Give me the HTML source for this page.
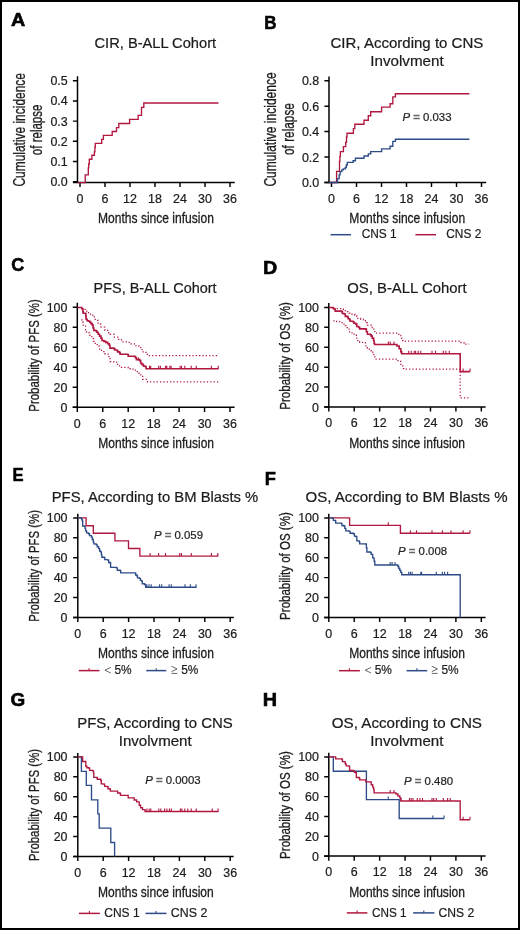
<!DOCTYPE html>
<html><head><meta charset="utf-8"><style>
html,body{margin:0;padding:0;background:#fff;}
body{width:520px;height:930px;overflow:hidden;}
svg{display:block;font-family:"Liberation Sans",sans-serif;}
text{stroke:#1a1a1a;stroke-width:0.22px;paint-order:stroke;}
text[font-weight=bold]{stroke:#000;stroke-width:0.6px;}
text.lab{stroke-width:0.3px;}
</style></head><body>
<svg width="520" height="930" viewBox="0 0 520 930">
<rect x="0" y="0" width="520" height="930" fill="#fff"/>
<g opacity="0.995">
<text transform="translate(10.89,25.90) scale(1.0699,1)" font-size="18.49" font-weight="bold" fill="#000" class="">A</text>
<text transform="translate(264.14,28.80) scale(0.9464,1)" font-size="17.92" font-weight="bold" fill="#000" class="">B</text>
<text transform="translate(11.34,271.00) scale(0.9380,1)" font-size="19.20" font-weight="bold" fill="#000" class="">C</text>
<text transform="translate(262.97,273.80) scale(1.0644,1)" font-size="18.49" font-weight="bold" fill="#000" class="">D</text>
<text transform="translate(12.46,480.90) scale(0.8845,1)" font-size="18.77" font-weight="bold" fill="#000" class="">E</text>
<text transform="translate(264.66,484.50) scale(0.9638,1)" font-size="18.92" font-weight="bold" fill="#000" class="">F</text>
<text transform="translate(10.61,705.70) scale(0.9922,1)" font-size="19.06" font-weight="bold" fill="#000" class="">G</text>
<text transform="translate(262.86,705.80) scale(1.0667,1)" font-size="18.63" font-weight="bold" fill="#000" class="">H</text>
<text transform="translate(94.51,47.80) scale(0.9907,1)" font-size="14.80" font-weight="normal" fill="#1a1a1a" class="">CIR, B-ALL Cohort</text>
<text transform="translate(330.49,47.80) scale(1.0168,1)" font-size="14.80" font-weight="normal" fill="#1a1a1a" class="">CIR, According to CNS</text>
<text transform="translate(370.31,65.50) scale(1.0261,1)" font-size="14.80" font-weight="normal" fill="#1a1a1a" class="">Involvment</text>
<text transform="translate(93.57,292.60) scale(0.9764,1)" font-size="14.80" font-weight="normal" fill="#1a1a1a" class="">PFS, B-ALL Cohort</text>
<text transform="translate(347.20,292.70) scale(1.0065,1)" font-size="14.80" font-weight="normal" fill="#1a1a1a" class="">OS, B-ALL Cohort</text>
<text transform="translate(51.74,502.30) scale(1.0008,1)" font-size="14.80" font-weight="normal" fill="#1a1a1a" class="">PFS, According to BM Blasts %</text>
<text transform="translate(305.50,502.30) scale(1.0159,1)" font-size="14.80" font-weight="normal" fill="#1a1a1a" class="">OS, According to BM Blasts %</text>
<text transform="translate(77.23,727.50) scale(1.0121,1)" font-size="14.80" font-weight="normal" fill="#1a1a1a" class="">PFS, According to CNS</text>
<text transform="translate(118.72,745.50) scale(1.0205,1)" font-size="14.80" font-weight="normal" fill="#1a1a1a" class="">Involvment</text>
<text transform="translate(331.79,727.50) scale(1.0266,1)" font-size="14.80" font-weight="normal" fill="#1a1a1a" class="">OS, According to CNS</text>
<text transform="translate(370.32,745.50) scale(1.0219,1)" font-size="14.80" font-weight="normal" fill="#1a1a1a" class="">Involvment</text>
<text transform="translate(98.06,223.10) scale(0.8036,1)" font-size="15.00" font-weight="normal" fill="#1a1a1a" class="lab">Months since infusion</text>
<text transform="translate(349.36,223.10) scale(0.8036,1)" font-size="15.00" font-weight="normal" fill="#1a1a1a" class="lab">Months since infusion</text>
<text transform="translate(98.26,447.90) scale(0.8036,1)" font-size="15.00" font-weight="normal" fill="#1a1a1a" class="lab">Months since infusion</text>
<text transform="translate(349.26,447.60) scale(0.8036,1)" font-size="15.00" font-weight="normal" fill="#1a1a1a" class="lab">Months since infusion</text>
<text transform="translate(98.06,658.00) scale(0.8036,1)" font-size="15.00" font-weight="normal" fill="#1a1a1a" class="lab">Months since infusion</text>
<text transform="translate(349.16,658.00) scale(0.8036,1)" font-size="15.00" font-weight="normal" fill="#1a1a1a" class="lab">Months since infusion</text>
<text transform="translate(97.96,897.00) scale(0.8036,1)" font-size="15.00" font-weight="normal" fill="#1a1a1a" class="lab">Months since infusion</text>
<text transform="translate(349.16,896.70) scale(0.8036,1)" font-size="15.00" font-weight="normal" fill="#1a1a1a" class="lab">Months since infusion</text>
<text transform="translate(24.50,186.56) rotate(-90) scale(0.7466,1)" font-size="16.00" fill="#1a1a1a" class="lab">Cumulative incidence</text>
<text transform="translate(41.70,155.16) rotate(-90) scale(0.7205,1)" font-size="16.00" fill="#1a1a1a" class="lab">of relapse</text>
<text transform="translate(276.30,186.56) rotate(-90) scale(0.7513,1)" font-size="16.00" fill="#1a1a1a" class="lab">Cumulative incidence</text>
<text transform="translate(293.60,154.97) rotate(-90) scale(0.7393,1)" font-size="16.00" fill="#1a1a1a" class="lab">of relapse</text>
<text transform="translate(38.90,411.69) rotate(-90) scale(0.7378,1)" font-size="15.50" fill="#1a1a1a" class="lab">Probability of PFS (%)</text>
<text transform="translate(38.90,621.79) rotate(-90) scale(0.7338,1)" font-size="15.50" fill="#1a1a1a" class="lab">Probability of PFS (%)</text>
<text transform="translate(38.90,860.99) rotate(-90) scale(0.7358,1)" font-size="15.50" fill="#1a1a1a" class="lab">Probability of PFS (%)</text>
<text transform="translate(290.10,409.70) rotate(-90) scale(0.7442,1)" font-size="15.50" fill="#1a1a1a" class="lab">Probability of OS (%)</text>
<text transform="translate(290.10,619.90) rotate(-90) scale(0.7442,1)" font-size="15.50" fill="#1a1a1a" class="lab">Probability of OS (%)</text>
<text transform="translate(290.10,858.90) rotate(-90) scale(0.7442,1)" font-size="15.50" fill="#1a1a1a" class="lab">Probability of OS (%)</text>
<text transform="translate(361.64,238.20) scale(0.9151,1)" font-size="13.00" font-weight="normal" fill="#1a1a1a" class="">CNS 1</text>
<text transform="translate(446.24,238.20) scale(0.9151,1)" font-size="13.00" font-weight="normal" fill="#1a1a1a" class="">CNS 2</text>
<text transform="translate(104.24,916.70) scale(0.9232,1)" font-size="13.00" font-weight="normal" fill="#1a1a1a" class="">CNS 1</text>
<text transform="translate(170.82,916.70) scale(0.9555,1)" font-size="13.00" font-weight="normal" fill="#1a1a1a" class="">CNS 2</text>
<text transform="translate(372.05,916.50) scale(0.9044,1)" font-size="13.00" font-weight="normal" fill="#1a1a1a" class="">CNS 1</text>
<text transform="translate(438.53,916.50) scale(0.9340,1)" font-size="13.00" font-weight="normal" fill="#1a1a1a" class="">CNS 2</text>
<text transform="translate(114.43,673.80) scale(0.8962,1)" font-size="13.30" font-weight="normal" fill="#1a1a1a" class="">5%</text>
<text transform="translate(181.13,673.80) scale(0.8962,1)" font-size="13.30" font-weight="normal" fill="#1a1a1a" class="">5%</text>
<text transform="translate(374.73,673.90) scale(0.8962,1)" font-size="13.30" font-weight="normal" fill="#1a1a1a" class="">5%</text>
<text transform="translate(441.43,673.90) scale(0.8962,1)" font-size="13.30" font-weight="normal" fill="#1a1a1a" class="">5%</text>
<path d="M77.5,76.3V182.5M72.9,182.5H234.75" stroke="#000" stroke-width="1.5" fill="none"/>
<path d="M72.9,80.7H77.5M72.9,100.9H77.5M72.9,121.1H77.5M72.9,141.3H77.5M72.9,161.5H77.5M72.9,181.7H77.5M80.00,182.5v4.6M105.00,182.5v4.6M130.00,182.5v4.6M155.00,182.5v4.6M180.00,182.5v4.6M205.00,182.5v4.6M230.00,182.5v4.6" stroke="#000" stroke-width="1.45" fill="none"/>
<text x="0" y="0" transform="translate(67.7,85.2) scale(0.98,1)" text-anchor="end" font-size="12.7" fill="#1a1a1a">0.5</text>
<text x="0" y="0" transform="translate(67.7,105.4) scale(0.98,1)" text-anchor="end" font-size="12.7" fill="#1a1a1a">0.4</text>
<text x="0" y="0" transform="translate(67.7,125.6) scale(0.98,1)" text-anchor="end" font-size="12.7" fill="#1a1a1a">0.3</text>
<text x="0" y="0" transform="translate(67.7,145.8) scale(0.98,1)" text-anchor="end" font-size="12.7" fill="#1a1a1a">0.2</text>
<text x="0" y="0" transform="translate(67.7,166.0) scale(0.98,1)" text-anchor="end" font-size="12.7" fill="#1a1a1a">0.1</text>
<text x="0" y="0" transform="translate(67.7,186.2) scale(0.98,1)" text-anchor="end" font-size="12.7" fill="#1a1a1a">0.0</text>
<text transform="translate(80.00,202.8) scale(0.98,1)" text-anchor="middle" font-size="12.7" fill="#1a1a1a">0</text>
<text transform="translate(105.00,202.8) scale(0.98,1)" text-anchor="middle" font-size="12.7" fill="#1a1a1a">6</text>
<text transform="translate(130.00,202.8) scale(0.98,1)" text-anchor="middle" font-size="12.7" fill="#1a1a1a">12</text>
<text transform="translate(155.00,202.8) scale(0.98,1)" text-anchor="middle" font-size="12.7" fill="#1a1a1a">18</text>
<text transform="translate(180.00,202.8) scale(0.98,1)" text-anchor="middle" font-size="12.7" fill="#1a1a1a">24</text>
<text transform="translate(205.00,202.8) scale(0.98,1)" text-anchor="middle" font-size="12.7" fill="#1a1a1a">30</text>
<text transform="translate(230.00,202.8) scale(0.98,1)" text-anchor="middle" font-size="12.7" fill="#1a1a1a">36</text>
<path d="M329,76.5V182.5M324.4,182.5H486.2" stroke="#000" stroke-width="1.5" fill="none"/>
<path d="M324.4,80.8H329M324.4,106.2H329M324.4,131.5H329M324.4,157.0H329M324.4,182.5H329M331.50,182.5v4.6M356.50,182.5v4.6M381.50,182.5v4.6M406.50,182.5v4.6M431.50,182.5v4.6M456.50,182.5v4.6M481.50,182.5v4.6" stroke="#000" stroke-width="1.45" fill="none"/>
<text x="0" y="0" transform="translate(319.2,85.3) scale(0.98,1)" text-anchor="end" font-size="12.7" fill="#1a1a1a">0.8</text>
<text x="0" y="0" transform="translate(319.2,110.7) scale(0.98,1)" text-anchor="end" font-size="12.7" fill="#1a1a1a">0.6</text>
<text x="0" y="0" transform="translate(319.2,136.0) scale(0.98,1)" text-anchor="end" font-size="12.7" fill="#1a1a1a">0.4</text>
<text x="0" y="0" transform="translate(319.2,161.5) scale(0.98,1)" text-anchor="end" font-size="12.7" fill="#1a1a1a">0.2</text>
<text x="0" y="0" transform="translate(319.2,187.0) scale(0.98,1)" text-anchor="end" font-size="12.7" fill="#1a1a1a">0.0</text>
<text transform="translate(331.50,202.8) scale(0.98,1)" text-anchor="middle" font-size="12.7" fill="#1a1a1a">0</text>
<text transform="translate(356.50,202.8) scale(0.98,1)" text-anchor="middle" font-size="12.7" fill="#1a1a1a">6</text>
<text transform="translate(381.50,202.8) scale(0.98,1)" text-anchor="middle" font-size="12.7" fill="#1a1a1a">12</text>
<text transform="translate(406.50,202.8) scale(0.98,1)" text-anchor="middle" font-size="12.7" fill="#1a1a1a">18</text>
<text transform="translate(431.50,202.8) scale(0.98,1)" text-anchor="middle" font-size="12.7" fill="#1a1a1a">24</text>
<text transform="translate(456.50,202.8) scale(0.98,1)" text-anchor="middle" font-size="12.7" fill="#1a1a1a">30</text>
<text transform="translate(481.50,202.8) scale(0.98,1)" text-anchor="middle" font-size="12.7" fill="#1a1a1a">36</text>
<path d="M77.3,302.7V407.3M72.7,407.3H234.6" stroke="#000" stroke-width="1.5" fill="none"/>
<path d="M72.7,307.3H77.3M72.7,327.3H77.3M72.7,347.3H77.3M72.7,367.3H77.3M72.7,387.3H77.3M72.7,407.3H77.3M77.30,407.3v4.6M102.75,407.3v4.6M128.20,407.3v4.6M153.65,407.3v4.6M179.10,407.3v4.6M204.55,407.3v4.6M230.00,407.3v4.6" stroke="#000" stroke-width="1.45" fill="none"/>
<text x="0" y="0" transform="translate(67.4,311.8) scale(0.98,1)" text-anchor="end" font-size="12.7" fill="#1a1a1a">100</text>
<text x="0" y="0" transform="translate(67.4,331.8) scale(0.98,1)" text-anchor="end" font-size="12.7" fill="#1a1a1a">80</text>
<text x="0" y="0" transform="translate(67.4,351.8) scale(0.98,1)" text-anchor="end" font-size="12.7" fill="#1a1a1a">60</text>
<text x="0" y="0" transform="translate(67.4,371.8) scale(0.98,1)" text-anchor="end" font-size="12.7" fill="#1a1a1a">40</text>
<text x="0" y="0" transform="translate(67.4,391.8) scale(0.98,1)" text-anchor="end" font-size="12.7" fill="#1a1a1a">20</text>
<text x="0" y="0" transform="translate(67.4,411.8) scale(0.98,1)" text-anchor="end" font-size="12.7" fill="#1a1a1a">0</text>
<text transform="translate(77.30,427.6) scale(0.98,1)" text-anchor="middle" font-size="12.7" fill="#1a1a1a">0</text>
<text transform="translate(102.75,427.6) scale(0.98,1)" text-anchor="middle" font-size="12.7" fill="#1a1a1a">6</text>
<text transform="translate(128.20,427.6) scale(0.98,1)" text-anchor="middle" font-size="12.7" fill="#1a1a1a">12</text>
<text transform="translate(153.65,427.6) scale(0.98,1)" text-anchor="middle" font-size="12.7" fill="#1a1a1a">18</text>
<text transform="translate(179.10,427.6) scale(0.98,1)" text-anchor="middle" font-size="12.7" fill="#1a1a1a">24</text>
<text transform="translate(204.55,427.6) scale(0.98,1)" text-anchor="middle" font-size="12.7" fill="#1a1a1a">30</text>
<text transform="translate(230.00,427.6) scale(0.98,1)" text-anchor="middle" font-size="12.7" fill="#1a1a1a">36</text>
<path d="M328.8,303.1V407.0M324.2,407.0H485.6" stroke="#000" stroke-width="1.5" fill="none"/>
<path d="M324.2,307.4H328.8M324.2,327.32H328.8M324.2,347.24H328.8M324.2,367.15999999999997H328.8M324.2,387.08H328.8M324.2,407.0H328.8M328.80,407.0v4.6M354.22,407.0v4.6M379.64,407.0v4.6M405.06,407.0v4.6M430.48,407.0v4.6M455.90,407.0v4.6M481.32,407.0v4.6" stroke="#000" stroke-width="1.45" fill="none"/>
<text x="0" y="0" transform="translate(318.9,311.9) scale(0.98,1)" text-anchor="end" font-size="12.7" fill="#1a1a1a">100</text>
<text x="0" y="0" transform="translate(318.9,331.82) scale(0.98,1)" text-anchor="end" font-size="12.7" fill="#1a1a1a">80</text>
<text x="0" y="0" transform="translate(318.9,351.74) scale(0.98,1)" text-anchor="end" font-size="12.7" fill="#1a1a1a">60</text>
<text x="0" y="0" transform="translate(318.9,371.65999999999997) scale(0.98,1)" text-anchor="end" font-size="12.7" fill="#1a1a1a">40</text>
<text x="0" y="0" transform="translate(318.9,391.58) scale(0.98,1)" text-anchor="end" font-size="12.7" fill="#1a1a1a">20</text>
<text x="0" y="0" transform="translate(318.9,411.5) scale(0.98,1)" text-anchor="end" font-size="12.7" fill="#1a1a1a">0</text>
<text transform="translate(328.80,427.3) scale(0.98,1)" text-anchor="middle" font-size="12.7" fill="#1a1a1a">0</text>
<text transform="translate(354.22,427.3) scale(0.98,1)" text-anchor="middle" font-size="12.7" fill="#1a1a1a">6</text>
<text transform="translate(379.64,427.3) scale(0.98,1)" text-anchor="middle" font-size="12.7" fill="#1a1a1a">12</text>
<text transform="translate(405.06,427.3) scale(0.98,1)" text-anchor="middle" font-size="12.7" fill="#1a1a1a">18</text>
<text transform="translate(430.48,427.3) scale(0.98,1)" text-anchor="middle" font-size="12.7" fill="#1a1a1a">24</text>
<text transform="translate(455.90,427.3) scale(0.98,1)" text-anchor="middle" font-size="12.7" fill="#1a1a1a">30</text>
<text transform="translate(481.32,427.3) scale(0.98,1)" text-anchor="middle" font-size="12.7" fill="#1a1a1a">36</text>
<path d="M77.8,513.7V617.4M73.2,617.4H233.8" stroke="#000" stroke-width="1.5" fill="none"/>
<path d="M73.2,517.9H77.8M73.2,537.8H77.8M73.2,557.6999999999999H77.8M73.2,577.6H77.8M73.2,597.5H77.8M73.2,617.4H77.8M77.80,617.4v4.6M103.20,617.4v4.6M128.60,617.4v4.6M154.00,617.4v4.6M179.40,617.4v4.6M204.80,617.4v4.6M230.20,617.4v4.6" stroke="#000" stroke-width="1.45" fill="none"/>
<text x="0" y="0" transform="translate(67.5,522.4) scale(0.98,1)" text-anchor="end" font-size="12.7" fill="#1a1a1a">100</text>
<text x="0" y="0" transform="translate(67.5,542.3) scale(0.98,1)" text-anchor="end" font-size="12.7" fill="#1a1a1a">80</text>
<text x="0" y="0" transform="translate(67.5,562.1999999999999) scale(0.98,1)" text-anchor="end" font-size="12.7" fill="#1a1a1a">60</text>
<text x="0" y="0" transform="translate(67.5,582.1) scale(0.98,1)" text-anchor="end" font-size="12.7" fill="#1a1a1a">40</text>
<text x="0" y="0" transform="translate(67.5,602.0) scale(0.98,1)" text-anchor="end" font-size="12.7" fill="#1a1a1a">20</text>
<text x="0" y="0" transform="translate(67.5,621.9) scale(0.98,1)" text-anchor="end" font-size="12.7" fill="#1a1a1a">0</text>
<text transform="translate(77.80,637.6999999999999) scale(0.98,1)" text-anchor="middle" font-size="12.7" fill="#1a1a1a">0</text>
<text transform="translate(103.20,637.6999999999999) scale(0.98,1)" text-anchor="middle" font-size="12.7" fill="#1a1a1a">6</text>
<text transform="translate(128.60,637.6999999999999) scale(0.98,1)" text-anchor="middle" font-size="12.7" fill="#1a1a1a">12</text>
<text transform="translate(154.00,637.6999999999999) scale(0.98,1)" text-anchor="middle" font-size="12.7" fill="#1a1a1a">18</text>
<text transform="translate(179.40,637.6999999999999) scale(0.98,1)" text-anchor="middle" font-size="12.7" fill="#1a1a1a">24</text>
<text transform="translate(204.80,637.6999999999999) scale(0.98,1)" text-anchor="middle" font-size="12.7" fill="#1a1a1a">30</text>
<text transform="translate(230.20,637.6999999999999) scale(0.98,1)" text-anchor="middle" font-size="12.7" fill="#1a1a1a">36</text>
<path d="M328.8,513.7V617.4M324.2,617.4H485.6" stroke="#000" stroke-width="1.5" fill="none"/>
<path d="M324.2,517.9H328.8M324.2,537.8H328.8M324.2,557.6999999999999H328.8M324.2,577.6H328.8M324.2,597.5H328.8M324.2,617.4H328.8M328.80,617.4v4.6M354.22,617.4v4.6M379.64,617.4v4.6M405.06,617.4v4.6M430.48,617.4v4.6M455.90,617.4v4.6M481.32,617.4v4.6" stroke="#000" stroke-width="1.45" fill="none"/>
<text x="0" y="0" transform="translate(318.9,522.4) scale(0.98,1)" text-anchor="end" font-size="12.7" fill="#1a1a1a">100</text>
<text x="0" y="0" transform="translate(318.9,542.3) scale(0.98,1)" text-anchor="end" font-size="12.7" fill="#1a1a1a">80</text>
<text x="0" y="0" transform="translate(318.9,562.1999999999999) scale(0.98,1)" text-anchor="end" font-size="12.7" fill="#1a1a1a">60</text>
<text x="0" y="0" transform="translate(318.9,582.1) scale(0.98,1)" text-anchor="end" font-size="12.7" fill="#1a1a1a">40</text>
<text x="0" y="0" transform="translate(318.9,602.0) scale(0.98,1)" text-anchor="end" font-size="12.7" fill="#1a1a1a">20</text>
<text x="0" y="0" transform="translate(318.9,621.9) scale(0.98,1)" text-anchor="end" font-size="12.7" fill="#1a1a1a">0</text>
<text transform="translate(328.80,637.6999999999999) scale(0.98,1)" text-anchor="middle" font-size="12.7" fill="#1a1a1a">0</text>
<text transform="translate(354.22,637.6999999999999) scale(0.98,1)" text-anchor="middle" font-size="12.7" fill="#1a1a1a">6</text>
<text transform="translate(379.64,637.6999999999999) scale(0.98,1)" text-anchor="middle" font-size="12.7" fill="#1a1a1a">12</text>
<text transform="translate(405.06,637.6999999999999) scale(0.98,1)" text-anchor="middle" font-size="12.7" fill="#1a1a1a">18</text>
<text transform="translate(430.48,637.6999999999999) scale(0.98,1)" text-anchor="middle" font-size="12.7" fill="#1a1a1a">24</text>
<text transform="translate(455.90,637.6999999999999) scale(0.98,1)" text-anchor="middle" font-size="12.7" fill="#1a1a1a">30</text>
<text transform="translate(481.32,637.6999999999999) scale(0.98,1)" text-anchor="middle" font-size="12.7" fill="#1a1a1a">36</text>
<path d="M77.8,753.0V856.4M73.2,856.4H233.6" stroke="#000" stroke-width="1.5" fill="none"/>
<path d="M73.2,756.9H77.8M73.2,776.8199999999999H77.8M73.2,796.74H77.8M73.2,816.66H77.8M73.2,836.5799999999999H77.8M73.2,856.5H77.8M77.80,856.4v4.6M103.20,856.4v4.6M128.60,856.4v4.6M154.00,856.4v4.6M179.40,856.4v4.6M204.80,856.4v4.6M230.20,856.4v4.6" stroke="#000" stroke-width="1.45" fill="none"/>
<text x="0" y="0" transform="translate(67.5,761.4) scale(0.98,1)" text-anchor="end" font-size="12.7" fill="#1a1a1a">100</text>
<text x="0" y="0" transform="translate(67.5,781.3199999999999) scale(0.98,1)" text-anchor="end" font-size="12.7" fill="#1a1a1a">80</text>
<text x="0" y="0" transform="translate(67.5,801.24) scale(0.98,1)" text-anchor="end" font-size="12.7" fill="#1a1a1a">60</text>
<text x="0" y="0" transform="translate(67.5,821.16) scale(0.98,1)" text-anchor="end" font-size="12.7" fill="#1a1a1a">40</text>
<text x="0" y="0" transform="translate(67.5,841.0799999999999) scale(0.98,1)" text-anchor="end" font-size="12.7" fill="#1a1a1a">20</text>
<text x="0" y="0" transform="translate(67.5,861.0) scale(0.98,1)" text-anchor="end" font-size="12.7" fill="#1a1a1a">0</text>
<text transform="translate(77.80,876.6999999999999) scale(0.98,1)" text-anchor="middle" font-size="12.7" fill="#1a1a1a">0</text>
<text transform="translate(103.20,876.6999999999999) scale(0.98,1)" text-anchor="middle" font-size="12.7" fill="#1a1a1a">6</text>
<text transform="translate(128.60,876.6999999999999) scale(0.98,1)" text-anchor="middle" font-size="12.7" fill="#1a1a1a">12</text>
<text transform="translate(154.00,876.6999999999999) scale(0.98,1)" text-anchor="middle" font-size="12.7" fill="#1a1a1a">18</text>
<text transform="translate(179.40,876.6999999999999) scale(0.98,1)" text-anchor="middle" font-size="12.7" fill="#1a1a1a">24</text>
<text transform="translate(204.80,876.6999999999999) scale(0.98,1)" text-anchor="middle" font-size="12.7" fill="#1a1a1a">30</text>
<text transform="translate(230.20,876.6999999999999) scale(0.98,1)" text-anchor="middle" font-size="12.7" fill="#1a1a1a">36</text>
<path d="M328.8,752.8V856.1M324.2,856.1H485.6" stroke="#000" stroke-width="1.5" fill="none"/>
<path d="M324.2,756.9H328.8M324.2,776.75H328.8M324.2,796.6H328.8M324.2,816.4499999999999H328.8M324.2,836.3H328.8M324.2,856.15H328.8M328.80,856.1v4.6M354.22,856.1v4.6M379.64,856.1v4.6M405.06,856.1v4.6M430.48,856.1v4.6M455.90,856.1v4.6M481.32,856.1v4.6" stroke="#000" stroke-width="1.45" fill="none"/>
<text x="0" y="0" transform="translate(318.9,761.4) scale(0.98,1)" text-anchor="end" font-size="12.7" fill="#1a1a1a">100</text>
<text x="0" y="0" transform="translate(318.9,781.25) scale(0.98,1)" text-anchor="end" font-size="12.7" fill="#1a1a1a">80</text>
<text x="0" y="0" transform="translate(318.9,801.1) scale(0.98,1)" text-anchor="end" font-size="12.7" fill="#1a1a1a">60</text>
<text x="0" y="0" transform="translate(318.9,820.9499999999999) scale(0.98,1)" text-anchor="end" font-size="12.7" fill="#1a1a1a">40</text>
<text x="0" y="0" transform="translate(318.9,840.8) scale(0.98,1)" text-anchor="end" font-size="12.7" fill="#1a1a1a">20</text>
<text x="0" y="0" transform="translate(318.9,860.65) scale(0.98,1)" text-anchor="end" font-size="12.7" fill="#1a1a1a">0</text>
<text transform="translate(328.80,876.4) scale(0.98,1)" text-anchor="middle" font-size="12.7" fill="#1a1a1a">0</text>
<text transform="translate(354.22,876.4) scale(0.98,1)" text-anchor="middle" font-size="12.7" fill="#1a1a1a">6</text>
<text transform="translate(379.64,876.4) scale(0.98,1)" text-anchor="middle" font-size="12.7" fill="#1a1a1a">12</text>
<text transform="translate(405.06,876.4) scale(0.98,1)" text-anchor="middle" font-size="12.7" fill="#1a1a1a">18</text>
<text transform="translate(430.48,876.4) scale(0.98,1)" text-anchor="middle" font-size="12.7" fill="#1a1a1a">24</text>
<text transform="translate(455.90,876.4) scale(0.98,1)" text-anchor="middle" font-size="12.7" fill="#1a1a1a">30</text>
<text transform="translate(481.32,876.4) scale(0.98,1)" text-anchor="middle" font-size="12.7" fill="#1a1a1a">36</text>
<path d="M77.8,182.6H85.2V174.8H88.3V167.9H88.7V163.9H89.3V159.2H91.9V155.2H94.4V151.7H94.9V147H95.3V143.4H101.7V139.3H103.4V135.3H112.2V131.5H116.5V127.6H118.8V123.5H129.6V119.3H138.1V115.3H141.5V107.3H143.8V103H218.5" stroke="#B0173F" stroke-width="1.35" fill="none" stroke-linejoin="miter"/>
<path d="M329,182.5H336.6V171.4H339.5V161.5H339.9V156.3H340.4V151.6H343.4V146.6H345.7V142.3H346.5V137H347V133.2H353.4V128.6H354.8V124.2H364V120.2H368.3V115.7H370.7V111.7H381.6V107.1H390.1V103.7H392.8V96.9H395.4V93.75H469.4" stroke="#B0173F" stroke-width="1.35" fill="none" stroke-linejoin="miter"/>
<path d="M329,182.5H337.5V178.6H339.2V174.8H340.1V171.6H341.8V169.8H343.3V168.8H345.3V167.5H346.3V165H347.3V162.4H353.1V160.7H355.4V158.2H364V156H368.3V153.8H370.7V151.6H381.6V148.8H390.1V146.2H392.8V141.3H395.4V139.2H469.4" stroke="#2C4A86" stroke-width="1.35" fill="none" stroke-linejoin="miter"/>
<path d="M81.8,308.7H85.1V311.1H88.5V314H92.8V316.9H95.2V320.3H98.1V324.1H101V327H104.8V330.4H108.7V332.8H110V334.2H113.8V337H117.7V339.4H121.5V341.8H128.3V342.3H130.2V343.8H134V343.8H136V345.7H138.8V347.6H140.8V349.5H143.2V352.4H146.1V354.3H148.5V355.6H218.7V355.6" stroke="#B0173F" stroke-width="1.25" fill="none" stroke-linejoin="miter" stroke-dasharray="1.25,2.1"/>
<path d="M81.3,319.8H82.7V322.2H83.2V326H85.6V327H85.6V329.9H86.6V332.8H89.5V335.2H91.9V337.6H93.3V341.4H95.2V343.3H97.2V346.2H99.6V349.1H101.5V351.5H105V354H108V356.5H110V358.7H110V361.5H113.8V362H116.7V364.4H119.6V365.9H121.5V367.3H128.3V367.8H130.2V369.2H134V370.2H136V371.6H138.8V373.1H140.8V375.5H142.7V379.3H146.5V380.3H147.5V381.8H218.7V381.8" stroke="#B0173F" stroke-width="1.25" fill="none" stroke-linejoin="miter" stroke-dasharray="1.25,2.1"/>
<path d="M77.4,307.5H81.3V307.5H81.8V308.7H82.7V308.9H82.9V311.6H83.2V313.3H85.6V313.5H85.8V316.4H86.1V319.3H87.1V320.8H88.5V321.2H89.9V322.2H90.9V323.6H92.3V325.1H93.1V328H93.8V330.4H95.7V330.8H96.7V332.3H98.1V334.2H99.6V336.1H101V338.1H102V340.5H103.9V341.4H105.8V342.4H107.7V343.8H109.2V345.3H110V346.5H110V348.1H113.8V348.6H114.8V350H116.7V350.5H117.7V351.9H119.6V352.9H120.1V354.3H127.8V354.8H128.3V356.3H134.5V356.5H135.5V357.7H136.4V359.6H139.8V360.6H140.6V363H141.7V364.4H143.2V365.4H143.7V366.3H145.6V366.8H146.1V368.7H218.6V368.7" stroke="#B0173F" stroke-width="1.6" fill="none" stroke-linejoin="miter"/>
<path d="M138.4,360.6v-3.0" stroke="#B0173F" stroke-width="1.1" fill="none"/>
<path d="M149.5,368.7v-3.0M150.7,368.7v-3.0M158.7,368.7v-3.0M160.4,368.7v-3.0M165.6,368.7v-3.0M166.8,368.7v-3.0M169.8,368.7v-3.0M171.1,368.7v-3.0M180.1,368.7v-3.0M181.5,368.7v-3.0M184.8,368.7v-3.0M191.2,368.7v-3.0M196.2,368.7v-3.0M211.4,368.7v-3.0M218.2,368.7v-3.0" stroke="#B0173F" stroke-width="1.1" fill="none"/>
<path d="M333.7,308.3H336.6V308.7H341.4V308.9H343.3V309.7H345.3V310.7H347.2V311.6H349.1V313.1H352V314H354.9V315H356.8V316.4H357.8V318.3H360.7V319.3H363.5V319.8H365.5V320.8H366.4V322.7H367.4V325.1H371.2V325.6H372.2V327.5H373.8V331.5H374.8V333.1H396.9V333.1H398.8V335.4H400.8V338.3H401.7V340.6H403V341.1H458.8V341.1H461V342.5H464V344.2H469.2V344.2" stroke="#B0173F" stroke-width="1.25" fill="none" stroke-linejoin="miter" stroke-dasharray="1.25,2.1"/>
<path d="M333.3,320.8H336.6V321.7H340.5V322.7H343.3V324.1H345.3V325.6H347.2V327.5H349.1V329.9H349.6V332.8H352V334.2H354.9V335.2H356.3V336.6H356.8V340.5H359.7V342.4H363.5V342.9H365.5V343.8H365.9V345.8H367.4V348.2H369.3V349.1H371.2V351H372.9V352.7H373.8V356.2H374.8V359H395V359H397.9V361.3H400.8V365.2H402.7V368.5H404V369H458.8V369H460.2V369H460.2V397.9H468.9V397.9" stroke="#B0173F" stroke-width="1.25" fill="none" stroke-linejoin="miter" stroke-dasharray="1.25,2.1"/>
<path d="M328.9,307.5H332.8V307.5H333.3V308.7H334.7V309.2H335.2V311.1H341.4V311.6H342.4V313.5H344.3V314H345.3V316.4H347.7V317.4H348.2V318.8H349.6V319.8H350.1V321.2H353V321.7H353.9V323.2H355.8V324.1H356.8V326.5H358.7V327.5H359.7V328.9H365.5V329.1H366.4V331.8H367.4V334.2H370.3V334.7H371.2V336.1H372.2V338.1H373.6V340.5H374.1V343.3H374.6V344.5H396.9V344.5H396.9V346H399.2V346H399.2V348.8H400.8V348.8H400.8V351.7H401.7V351.7H401.7V353.7H460.2V353.7H460.2V371.6H470.1V371.6" stroke="#B0173F" stroke-width="1.6" fill="none" stroke-linejoin="miter"/>
<path d="M388.3,344.5v-3.0M390.2,344.5v-3.0M394,344.5v-3.0" stroke="#B0173F" stroke-width="1.1" fill="none"/>
<path d="M401.4,353.7v-3.0M408.7,353.7v-3.0M411.2,353.7v-3.0M414.2,353.7v-3.0M415.6,353.7v-3.0M418.2,353.7v-3.0M420.8,353.7v-3.0M432,353.7v-3.0M435.5,353.7v-3.0M443.3,353.7v-3.0M445.8,353.7v-3.0M449.3,353.7v-3.0" stroke="#B0173F" stroke-width="1.1" fill="none"/>
<path d="M463.1,371.6v-3.0M470.1,371.6v-3.0" stroke="#B0173F" stroke-width="1.1" fill="none"/>
<path d="M77.7,517.8H86.1V525.7H93.3V533.2H114.9V540.9H128.5V548.5H139.9V556.1H218.4" stroke="#B0173F" stroke-width="1.35" fill="none" stroke-linejoin="miter"/>
<path d="M77.7,517.8H81.3V518.3H81.8V519.8H82.5V521.2H82.7V526H84.7V526.3H85.1V528.4H85.6V530.8H86.6V532.8H88.5V533.7H89.5V535.6H91.4V537.1H92.3V539.5H93.3V541.9H93.8V543.8H96.2V544.8H97.2V546.7H98.6V548.6H99.6V551H100.5V551.9H101.4V554.8H101.9V557.2H104.3V557.7H104.8V559.6H107.7V560.1H108.7V562.5H110.1V563H110.6V567.3H116.3V567.8H117.3V570.2H120.2V570.7H120.7V572.9H134.6V572.9H135.6V575H137V576H137.5V577.9H139.4V578.4H140.4V580.3H141.8V581.3H142.3V583.7H144.7V584.6H145.7V587.2H196.6V587.2" stroke="#2C4A86" stroke-width="1.35" fill="none" stroke-linejoin="miter"/>
<path d="M150.1,556.1v-3.0M158.6,556.1v-3.0M165.5,556.1v-3.0M179.7,556.1v-3.0M181.4,556.1v-3.0M191.3,556.1v-3.0M211.4,556.1v-3.0M217.8,556.1v-3.0" stroke="#B0173F" stroke-width="1.1" fill="none"/>
<path d="M146.9,587.2v-3.0M149,587.2v-3.0M151.2,587.2v-3.0M159.6,587.2v-3.0M161.7,587.2v-3.0M169.1,587.2v-3.0M171.3,587.2v-3.0M185,587.2v-3.0M190.3,587.2v-3.0M196,587.2v-3.0" stroke="#2C4A86" stroke-width="1.1" fill="none"/>
<path d="M328.9,517.8H349.6V525.3H400.4V533.2H470" stroke="#B0173F" stroke-width="1.35" fill="none" stroke-linejoin="miter"/>
<path d="M328.9,517.8H332.3V518.3H333.3V520.3H335.2V520.7H335.7V523.1H341.4V523.3H341.9V525.5H343.8V526H344.8V528.4H345.8V530.8H349.1V531.3H350.1V533.2H353.4V533.7H354.4V536.1H355.8V536.6H356.8V540.9H359.2V541.9H359.7V543.8H365.5V544H366.4V547.7H366.9V552H370.3V552.3H371.2V554.4H372.7V557.8H374.1V561.1H374.8V565H396.9V565H397.9V566.5H398.8V568.5H399.8V570.4H400.8V572.3H401.7V574.7H460.2V574.7H460.2V617.4" stroke="#2C4A86" stroke-width="1.35" fill="none" stroke-linejoin="miter"/>
<path d="M388.3,525.3v-3.0" stroke="#B0173F" stroke-width="1.1" fill="none"/>
<path d="M410.4,533.2v-3.0M416.5,533.2v-3.0M432,533.2v-3.0M442.4,533.2v-3.0M451,533.2v-3.0M463.1,533.2v-3.0M470,533.2v-3.0" stroke="#B0173F" stroke-width="1.1" fill="none"/>
<path d="M390.2,565v-3.0M392.1,565v-3.0M395,565v-3.0" stroke="#2C4A86" stroke-width="1.1" fill="none"/>
<path d="M408.7,574.7v-3.0M410.4,574.7v-3.0M412.1,574.7v-3.0M420.8,574.7v-3.0M421.6,574.7v-3.0M436.3,574.7v-3.0M442.4,574.7v-3.0M444.6,574.7v-3.0M447.6,574.7v-3.0" stroke="#2C4A86" stroke-width="1.1" fill="none"/>
<path d="M77.9,756.9H81.4V771.3H86.3V785.4H91.5V799.8H97.8V813.8H99.2V828.1H110.8V842.5H114.6V856.4" stroke="#2C4A86" stroke-width="1.35" fill="none" stroke-linejoin="miter"/>
<path d="M77.7,756.9H82.7V756.9H82.7V761.5H85.4V761.5H85.8V766.2H86.9V767.7H89.2V768.5H89.6V770.4H92.7V770.8H93.5V773.1H93.8V777.3H96.9V777.7H97.3V779.2H100.8V780.5H101.3V783.8H104.1V784.3H104.6V786.3H107.5V786.7H108V788.7H109.9V789.1H110.4V791.1H117.1V791.1H117.6V793H120V793.5H120.5V795.4H127.7V795.4H128.2V797.8H134.2V797.9H134.2V800H136.7V800H136.7V801.9H139.2V801.9H139.2V805.2H140.6V805.2H140.6V807.7H142.5V807.7H142.5V809.6H145V809.6H145V811.5H218.5V811.5" stroke="#B0173F" stroke-width="1.35" fill="none" stroke-linejoin="miter"/>
<path d="M146.9,811.5v-3.0M149.2,811.5v-3.0M150.8,811.5v-3.0M158.8,811.5v-3.0M160.8,811.5v-3.0M164.6,811.5v-3.0M166.9,811.5v-3.0M169.4,811.5v-3.0M171.3,811.5v-3.0M180.4,811.5v-3.0M181.9,811.5v-3.0M184.8,811.5v-3.0M187.7,811.5v-3.0M191.2,811.5v-3.0M196.3,811.5v-3.0M212.3,811.5v-3.0M218.1,811.5v-3.0" stroke="#B0173F" stroke-width="1.1" fill="none"/>
<path d="M328.9,756.8H333.3V771.2H366.4V799.6H399.2V818.5H444.1" stroke="#2C4A86" stroke-width="1.35" fill="none" stroke-linejoin="miter"/>
<path d="M328.9,756.8H335.5V756.8H335.7V758.9H341.9V759.2H342.4V761.6H344.3V761.8H345.3V764H346.2V765.9H349.1V766.4H349.6V770.5H353V770.8H354.4V772.2H355.8V772.7H356.3V777.5H359.2V778H359.7V779.9H365.5V780.1H365.9V781.8H370.3V782H371.2V784.7H372.7V787.1H373.6V789.5H374.1V792.9H396V792.9H396V794H397.9V794H397.9V796H399.8V796H399.8V797.9H400.8V797.9H400.8V801H460.2V801H460.2V819.7H470V819.7" stroke="#B0173F" stroke-width="1.35" fill="none" stroke-linejoin="miter"/>
<path d="M388.3,799.6v-3.0" stroke="#2C4A86" stroke-width="1.1" fill="none"/>
<path d="M432.9,818.5v-3.0M444.1,818.5v-3.0" stroke="#2C4A86" stroke-width="1.1" fill="none"/>
<path d="M390.2,792.9v-3.0M394,792.9v-3.0" stroke="#B0173F" stroke-width="1.1" fill="none"/>
<path d="M400.9,801v-3.0M409.5,801v-3.0M411.2,801v-3.0M413,801v-3.0M417.3,801v-3.0M419.9,801v-3.0M422.5,801v-3.0M432,801v-3.0M433.7,801v-3.0M436.3,801v-3.0M443.3,801v-3.0M447.6,801v-3.0M450.2,801v-3.0" stroke="#B0173F" stroke-width="1.1" fill="none"/>
<path d="M463.1,819.7v-3.0M470,819.7v-3.0" stroke="#B0173F" stroke-width="1.1" fill="none"/>
<text x="402.4" y="121.3" font-size="11.4" fill="#222"><tspan font-style="italic">P</tspan> <tspan fill="#666" style="stroke:#666;stroke-width:0.45px">=</tspan> 0.033</text>
<text x="153.9" y="538.6" font-size="11.4" fill="#222"><tspan font-style="italic">P</tspan> <tspan fill="#666" style="stroke:#666;stroke-width:0.45px">=</tspan> 0.059</text>
<text x="398.0" y="554.8" font-size="11.4" fill="#222"><tspan font-style="italic">P</tspan> <tspan fill="#666" style="stroke:#666;stroke-width:0.45px">=</tspan> 0.008</text>
<text x="145.2" y="783.5" font-size="11.4" fill="#222"><tspan font-style="italic">P</tspan> <tspan fill="#666" style="stroke:#666;stroke-width:0.45px">=</tspan> 0.0003</text>
<text x="404.0" y="784.7" font-size="11.4" fill="#222"><tspan font-style="italic">P</tspan> <tspan fill="#666" style="stroke:#666;stroke-width:0.45px">=</tspan> 0.480</text>
<path d="M330.5,234.7H351" stroke="#2C4A86" stroke-width="1.5" fill="none" stroke-linejoin="miter"/>
<path d="M415.4,234.7H436" stroke="#B0173F" stroke-width="1.5" fill="none" stroke-linejoin="miter"/>
<path d="M78.75,670.6H99.5" stroke="#B0173F" stroke-width="1.5" fill="none" stroke-linejoin="miter"/>
<path d="M89.1,670.6v-2.4" stroke="#B0173F" stroke-width="1.1" fill="none"/>
<path d="M146.25,670.6H166.25" stroke="#2C4A86" stroke-width="1.5" fill="none" stroke-linejoin="miter"/>
<path d="M156.2,670.6v-2.4" stroke="#2C4A86" stroke-width="1.1" fill="none"/>
<path d="M339,670.7H359.9" stroke="#B0173F" stroke-width="1.5" fill="none" stroke-linejoin="miter"/>
<path d="M349.4,670.7v-2.4" stroke="#B0173F" stroke-width="1.1" fill="none"/>
<path d="M406.6,670.7H427.2" stroke="#2C4A86" stroke-width="1.5" fill="none" stroke-linejoin="miter"/>
<path d="M416.9,670.7v-2.4" stroke="#2C4A86" stroke-width="1.1" fill="none"/>
<path d="M79,913.4H99.8" stroke="#B0173F" stroke-width="1.5" fill="none" stroke-linejoin="miter"/>
<path d="M89.4,913.4v-2.4" stroke="#B0173F" stroke-width="1.1" fill="none"/>
<path d="M145.5,913.4H166.5" stroke="#2C4A86" stroke-width="1.5" fill="none" stroke-linejoin="miter"/>
<path d="M156.0,913.4v-2.4" stroke="#2C4A86" stroke-width="1.1" fill="none"/>
<path d="M346.8,912.9H367.4" stroke="#B0173F" stroke-width="1.5" fill="none" stroke-linejoin="miter"/>
<path d="M357.1,912.9v-2.4" stroke="#B0173F" stroke-width="1.1" fill="none"/>
<path d="M413.1,912.9H434.4" stroke="#2C4A86" stroke-width="1.5" fill="none" stroke-linejoin="miter"/>
<path d="M423.8,912.9v-2.4" stroke="#2C4A86" stroke-width="1.1" fill="none"/>
<path d="M110.8,667.4L104.9,670.2L110.8,673.0" stroke="#555" stroke-width="0.9" fill="none"/>
<path d="M171.5,666.2L177.1,669.0L171.5,671.6M171.5,673.4H177.3" stroke="#555" stroke-width="0.9" fill="none"/>
<path d="M371.1,667.4L365.20000000000005,670.2L371.1,673.0" stroke="#555" stroke-width="0.9" fill="none"/>
<path d="M431.8,666.2L437.4,669.0L431.8,671.6M431.8,673.4H437.6" stroke="#555" stroke-width="0.9" fill="none"/>
</g>
<rect x="1" y="1" width="518" height="928" fill="none" stroke="#000" stroke-width="2"/>
</svg>
</body></html>
